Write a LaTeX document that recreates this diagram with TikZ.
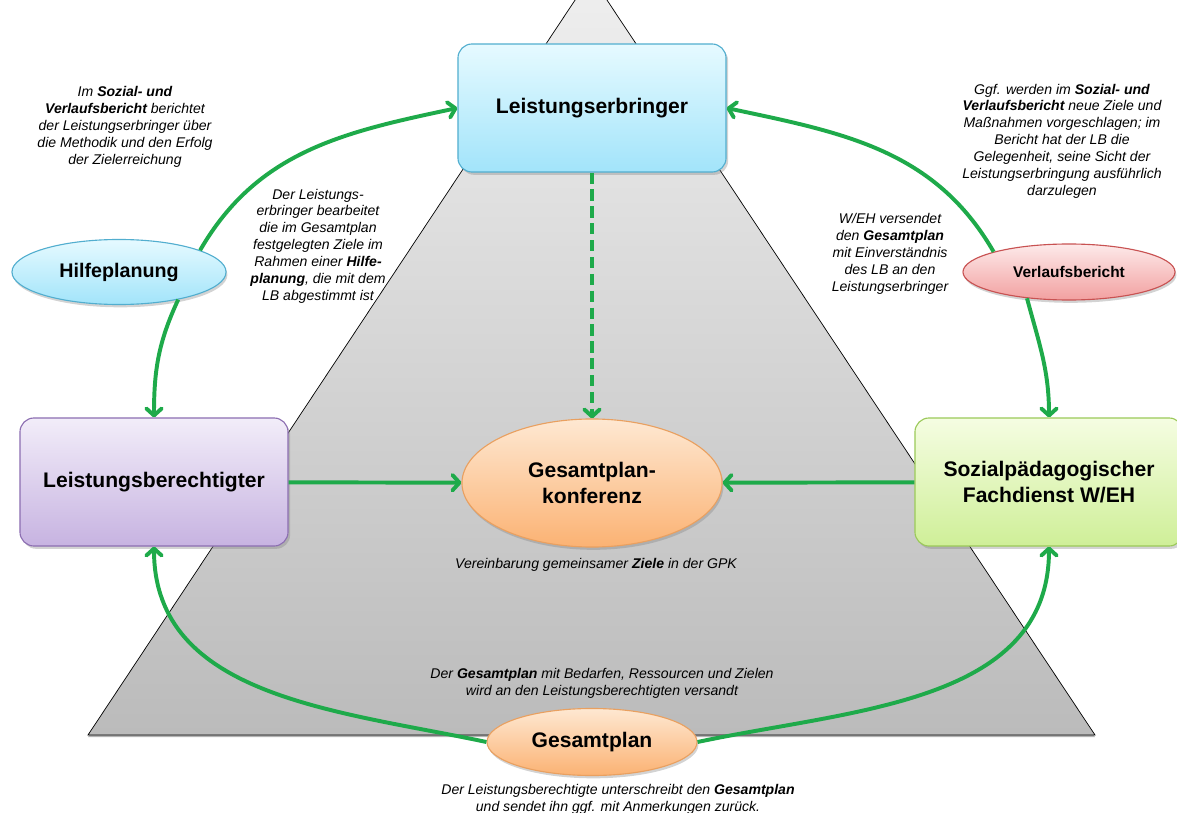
\documentclass[tikz,border=0pt]{standalone}
\usepackage{fontspec}
\setmainfont{Liberation Sans}
\usetikzlibrary{shapes.geometric,shadows,arrows.meta}
\definecolor{flowgreen}{HTML}{1EAA4A}
\definecolor{cyantop}{HTML}{E6FAFF}
\definecolor{cyanbot}{HTML}{A2E4FA}
\definecolor{cyanline}{HTML}{52AECF}
\definecolor{lilatop}{HTML}{F2EDF9}
\definecolor{lilabot}{HTML}{C7B3E1}
\definecolor{lilaline}{HTML}{8C6EB1}
\definecolor{limetop}{HTML}{F5FDE2}
\definecolor{limebot}{HTML}{CFEF98}
\definecolor{limeline}{HTML}{9BC95A}
\definecolor{rosetop}{HTML}{FDEAEA}
\definecolor{rosebot}{HTML}{F2A0A0}
\definecolor{roseline}{HTML}{C85252}
\definecolor{orangetop}{HTML}{FEE8D2}
\definecolor{orangebot}{HTML}{FBB273}
\definecolor{orangeline}{HTML}{E9A060}
\definecolor{tritop}{HTML}{EFEFEF}
\definecolor{tribot}{HTML}{BBBBBB}
\begin{document}
\begin{tikzpicture}[x=0.025cm,y=0.025cm]
		\tikzset{box/.style = {rectangle,rounded corners=10pt,draw,line width=0.8pt,minimum width=6.7cm,minimum height=3.2cm,align=center,font=\fontsize{15}{19}\selectfont\bfseries,drop shadow={opacity=0.35,shadow xshift=1.5pt,shadow yshift=-2pt}}}
		\tikzset{oval/.style = {ellipse,draw,line width=0.8pt,inner sep=0pt,align=center,font=\fontsize{15}{19}\selectfont\bfseries,drop shadow={opacity=0.35,shadow xshift=1pt,shadow yshift=-2pt}}}
		\tikzset{note/.style = {align=center,font=\fontsize{10}{12}\selectfont\itshape}}
		\tikzset{flow/.style = {draw=flowgreen,line width=2.8pt,-{Straight Barb[length=5pt,width=11pt,round]}}}
		\useasboundingbox (0,0) rectangle (1177,812);
		% triangle in the background
		\path[draw=black,line width=0.5pt,top color=tritop,bottom color=tribot,drop shadow={opacity=0.6,shadow xshift=0pt,shadow yshift=-1.5pt}] (591,836) -- (1095,77) -- (88,77) -- cycle;
		% main nodes
		\node[box,top color=cyantop,bottom color=cyanbot,draw=cyanline] (erbringer) at (592,704) {Leistungserbringer};
		\node[box,top color=lilatop,bottom color=lilabot,draw=lilaline] (berechtigter) at (154,330) {Leistungsberechtigter};
		\node[box,top color=limetop,bottom color=limebot,draw=limeline] (fachdienst) at (1049,330) {Sozialpädagogischer\\Fachdienst W/EH};
		\node[oval,minimum width=6.5cm,minimum height=3.2cm,top color=orangetop,bottom color=orangebot,draw=orangeline] (konferenz) at (592,329) {Gesamtplan-\\konferenz};
		\node[oval,minimum width=5.35cm,minimum height=1.625cm,top color=cyantop,bottom color=cyanbot,draw=cyanline,font=\fontsize{14}{17}\selectfont\bfseries] (hilfe) at (119,540) {Hilfeplanung};
		\node[oval,minimum width=5.3cm,minimum height=1.4cm,top color=rosetop,bottom color=rosebot,draw=roseline,font=\fontsize{11}{13}\selectfont\bfseries] (verlauf) at (1069,540) {Verlaufsbericht};
		\node[oval,minimum width=5.25cm,minimum height=1.675cm,top color=orangetop,bottom color=orangebot,draw=orangeline] (gesamtplan) at (592,70) {Gesamtplan};
		% notes
		\node[note] (notebericht) at (125,685) {Im \textbf{Sozial- und}\\\textbf{Verlaufsbericht} berichtet\\der Leistungserbringer über\\die Methodik und den Erfolg\\der Zielerreichung};
		\node[note] (notehilfe) at (318,566) {Der Leistungs-\\erbringer bearbeitet\\die im Gesamtplan\\festgelegten Ziele im\\Rahmen einer \textbf{Hilfe-}\\\textbf{planung}, die mit dem\\LB abgestimmt ist};
		\node[note] (noteziele) at (1062,671) {Ggf. werden im \textbf{Sozial- und}\\\textbf{Verlaufsbericht} neue Ziele und\\Maßnahmen vorgeschlagen; im\\Bericht hat der LB die\\Gelegenheit, seine Sicht der\\Leistungserbringung ausführlich\\darzulegen};
		\node[note] (noteversand) at (890,558) {W/EH versendet\\den \textbf{Gesamtplan}\\mit Einverständnis\\des LB an den\\Leistungserbringer};
		\node[note] (notegpk) at (596,247) {Vereinbarung gemeinsamer \textbf{Ziele} in der GPK};
		\node[note] (noteplan) at (602,129) {Der \textbf{Gesamtplan} mit Bedarfen, Ressourcen und Zielen\\wird an den Leistungsberechtigten versandt};
		\node[note] (noteunterschrift) at (618,13) {Der Leistungsberechtigte unterschreibt den \textbf{Gesamtplan}\\und sendet ihn ggf. mit Anmerkungen zurück.};
		% connectors
		\draw[flow] (berechtigter) -- (konferenz);
		\draw[flow] (fachdienst) -- (konferenz);
		\draw[flow,dash pattern=on 8pt off 4pt] (erbringer) -- (konferenz);
		\draw[flow] (hilfe.15) to[out=60,in=192] (erbringer.west);
		\draw[flow] (hilfe.-25) to[out=245,in=90] (berechtigter.north);
		\draw[flow] (verlauf.165) to[out=120,in=-12] (erbringer.east);
		\draw[flow] (verlauf.212) to[out=-75,in=90] (fachdienst.north);
		\draw[flow] (gesamtplan.west) to[out=168,in=-90] (berechtigter.south);
		\draw[flow] (gesamtplan.east) to[out=12,in=-90] (fachdienst.south);
	\end{tikzpicture}
\end{document}
